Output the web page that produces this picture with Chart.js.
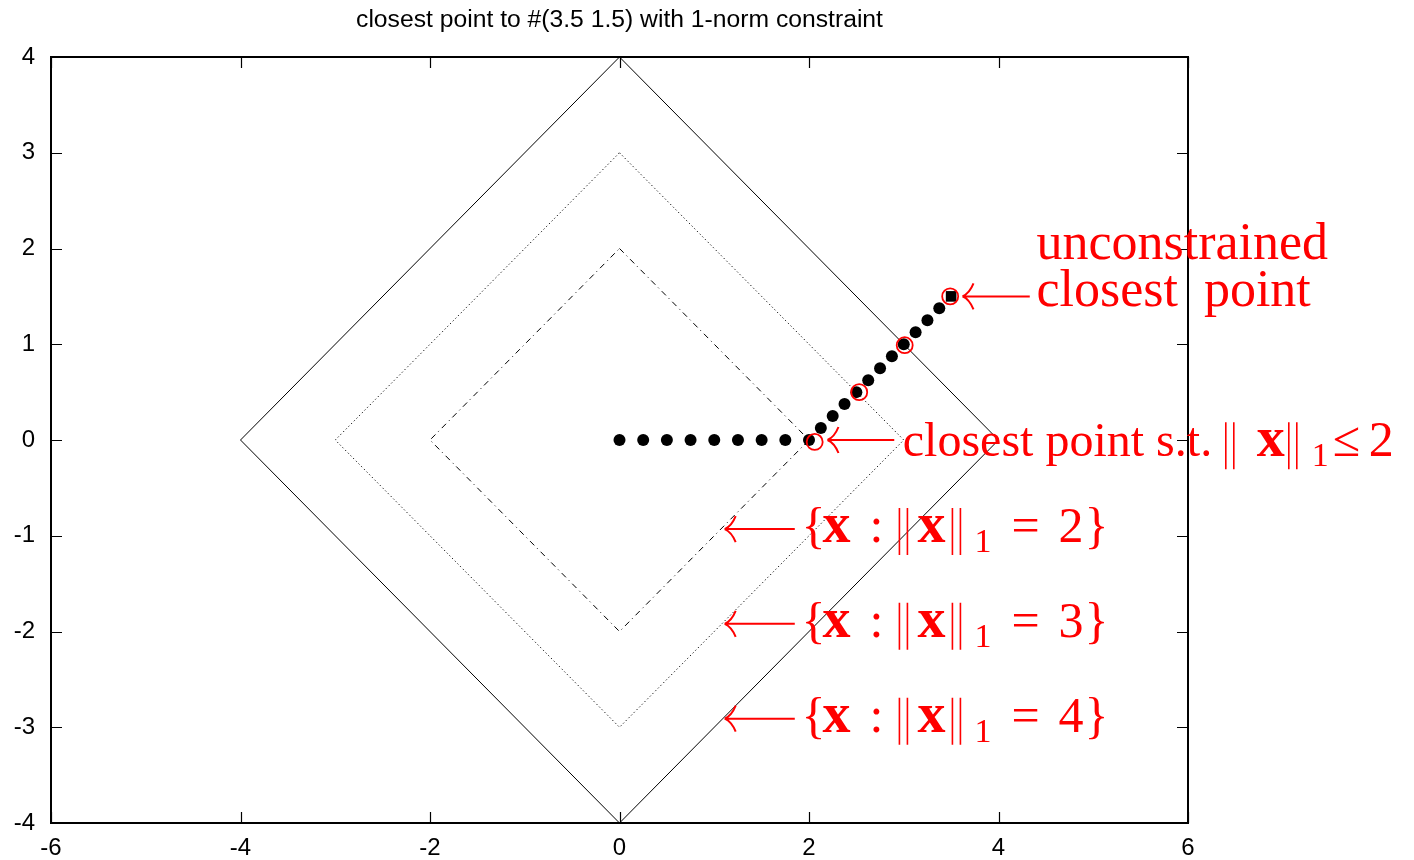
<!DOCTYPE html>
<html>
<head>
<meta charset="utf-8">
<script src="https://cdn.jsdelivr.net/npm/chart.js@4/dist/chart.umd.min.js"></script>
<style>
  html, body { margin: 0; padding: 0; background: #fff; }
  #wrap { width: 1414px; height: 860px; }
</style>
</head>
<body>
<div id="wrap"><canvas id="myChart" width="1414" height="860"></canvas></div>
<script>
// level sets of the 1-norm (diamonds)
const ball4X = [0, 4, 0, -4, 0];
const ball4Y = [4, 0, -4, 0, 4];
const ball3X = [0, 3, 0, -3, 0];
const ball3Y = [3, 0, -3, 0, 3];
const ball2X = [0, 2, 0, -2, 0];
const ball2Y = [2, 0, -2, 0, 2];

// path of closest points as the constraint grows
const pathX = [0, 0.25, 0.5, 0.75, 1, 1.25, 1.5, 1.75, 2, 2.125, 2.25, 2.375, 2.5, 2.625, 2.75, 2.875, 3, 3.125, 3.25, 3.375, 3.5];
const pathY = [0, 0, 0, 0, 0, 0, 0, 0, 0, 0.125, 0.25, 0.375, 0.5, 0.625, 0.75, 0.875, 1, 1.125, 1.25, 1.375, 1.5];

// highlighted points (red circles)
const markX = [2.06, 2.53, 3.01, 3.49];
const markY = [-0.02, 0.5, 0.99, 1.5];

const xTicks = [-6, -4, -2, 0, 2, 4, 6];
const yTicks = [-4, -3, -2, -1, 0, 1, 2, 3, 4];

const titleText = 'closest point to #(3.5 1.5) with 1-norm constraint';

const canvas = document.getElementById('myChart');

function toPoints(xs, ys) {
    return xs.map((x, i) => ({ x: x, y: ys[i] }));
}

const RED = '#ff0000';
const SERIF = '"Liberation Serif", "DejaVu Serif", serif';
const NF = '50px ' + SERIF;
const BF = 'bold 56px ' + SERIF;
const SF = '34px ' + SERIF;

// draws pieces of a formula at fixed offsets from x; 'bars' is a tall double bar
function drawRich(ctx, x, y, parts) {
    parts.forEach(p => {
        if (p.bars) {
            ctx.save();
            ctx.lineWidth = 1.6;
            ctx.beginPath();
            [1, 9].forEach(d => {
                ctx.moveTo(x + p.x + d, y - 34);
                ctx.lineTo(x + p.x + d, y + 13);
            });
            ctx.stroke();
            ctx.restore();
            return;
        }
        ctx.font = p.f;
        ctx.fillText(p.t, x + p.x, y + (p.dy || 0));
    });
}

// TeX style long left arrow
function longArrow(ctx, x1, x2, y) {
    ctx.beginPath();
    ctx.moveTo(x1 + 1, y);
    ctx.lineTo(x2, y);
    ctx.moveTo(x1, y);
    ctx.quadraticCurveTo(x1 + 7, y - 3, x1 + 11, y - 13);
    ctx.moveTo(x1, y);
    ctx.quadraticCurveTo(x1 + 7, y + 3, x1 + 11, y + 13);
    ctx.stroke();
}

function setParts(n) {
    return [
        { t: '{', f: NF, x: 0 },
        { t: 'x', f: BF, x: 21 },
        { t: ':', f: NF, x: 68 },
        { bars: true, x: 97 },
        { t: 'x', f: BF, x: 116 },
        { bars: true, x: 150 },
        { t: '1', f: SF, x: 173, dy: 10 },
        { t: '=', f: NF, x: 210 },
        { t: String(n), f: NF, x: 257 },
        { t: '}', f: NF, x: 283 }
    ];
}

const framePlugin = {
    id: 'frame',
    beforeDatasetsDraw(chart) {
        const ctx = chart.ctx;
        const a = chart.chartArea;
        const xs = chart.scales.x;
        const ys = chart.scales.y;
        ctx.save();
        ctx.strokeStyle = '#000';
        ctx.lineWidth = 1.2;
        ctx.beginPath();
        xTicks.forEach(v => {
            const px = Math.round(xs.getPixelForValue(v)) + 0.5;
            ctx.moveTo(px, a.bottom);
            ctx.lineTo(px, a.bottom - 11);
            ctx.moveTo(px, a.top);
            ctx.lineTo(px, a.top + 11);
        });
        yTicks.forEach(v => {
            const py = Math.round(ys.getPixelForValue(v)) + 0.5;
            ctx.moveTo(a.left, py);
            ctx.lineTo(a.left + 11, py);
            ctx.moveTo(a.right, py);
            ctx.lineTo(a.right - 11, py);
        });
        ctx.stroke();
        ctx.lineWidth = 2;
        ctx.strokeRect(a.left, a.top, a.right - a.left, a.bottom - a.top);
        ctx.restore();
    },
    afterDraw(chart) {
        const ctx = chart.ctx;
        const xs = chart.scales.x;
        const ys = chart.scales.y;
        const px = v => xs.getPixelForValue(v);
        const py = v => ys.getPixelForValue(v);
        ctx.save();
        // title
        ctx.fillStyle = '#000';
        ctx.font = '24.7px "Liberation Sans", Arial, sans-serif';
        ctx.textAlign = 'center';
        ctx.textBaseline = 'middle';
        ctx.fillText(titleText, px(0), 20);

        // red annotations
        ctx.fillStyle = RED;
        ctx.strokeStyle = RED;
        ctx.lineWidth = 2;
        ctx.textAlign = 'left';
        ctx.textBaseline = 'alphabetic';
        ctx.font = '52px ' + SERIF;
        ctx.fillText('unconstrained', px(4.4), py(1.89));
        ctx.fillText('closest  point', px(4.4), py(1.395));
        longArrow(ctx, px(3.62), px(4.33), py(1.5));

        longArrow(ctx, px(2.195), px(2.9), py(0));
        drawRich(ctx, px(2.99), py(-0.17), [
            { t: 'closest point s.t.', f: '48px ' + SERIF, x: 0 },
            { bars: true, x: 322 },
            { t: 'x', f: BF, x: 354 },
            { bars: true, x: 385 },
            { t: '1', f: SF, x: 409, dy: 10 },
            { t: '\u2264', f: NF, x: 430 },
            { t: '2', f: NF, x: 466 }
        ]);

        [2, 3, 4].forEach((n, i) => {
            const yArrow = py(-0.93 - i * 0.99);
            longArrow(ctx, px(1.11), px(1.85), yArrow);
            drawRich(ctx, px(1.92), yArrow + 13, setParts(n));
        });
        ctx.restore();
    }
};

const tickFont = { family: '"Liberation Sans", Arial, sans-serif', size: 24 };

new Chart(canvas, {
    type: 'scatter',
    data: {
        datasets: [
            {
                data: toPoints(markX, markY),
                pointStyle: 'circle',
                pointRadius: 8,
                borderColor: RED,
                backgroundColor: 'rgba(0,0,0,0)',
                borderWidth: 1.8,
                order: 0
            },
            {
                data: toPoints(pathX, pathY),
                pointStyle: pathX.map((v, i) => i === pathX.length - 1 ? 'rect' : 'circle'),
                pointRadius: pathX.map((v, i) => i === pathX.length - 1 ? 7.5 : 6),
                backgroundColor: '#000',
                borderColor: '#000',
                borderWidth: 0,
                order: 1
            },
            {
                data: toPoints(ball4X, ball4Y),
                showLine: true,
                borderColor: '#000',
                borderWidth: 1,
                pointRadius: 0,
                order: 2
            },
            {
                data: toPoints(ball3X, ball3Y),
                showLine: true,
                borderColor: '#000',
                borderWidth: 1,
                borderDash: [1.2, 2.6],
                pointRadius: 0,
                order: 2
            },
            {
                data: toPoints(ball2X, ball2Y),
                showLine: true,
                borderColor: '#000',
                borderWidth: 1,
                borderDash: [6, 4, 1, 4],
                pointRadius: 0,
                order: 2
            }
        ]
    },
    options: {
        responsive: false,
        animation: false,
        layout: { padding: { top: 57, right: 226, bottom: 0, left: 0 } },
        plugins: {
            legend: { display: false },
            tooltip: { enabled: false },
            title: { display: false }
        },
        scales: {
            x: {
                type: 'linear',
                min: -6,
                max: 6,
                grid: { display: false, drawTicks: false },
                border: { display: false },
                afterBuildTicks: s => { s.ticks = xTicks.map(v => ({ value: v })); },
                afterFit: s => { s.height = 37; },
                ticks: { color: '#000', font: tickFont, padding: 11, maxRotation: 0 }
            },
            y: {
                type: 'linear',
                min: -4,
                max: 4,
                grid: { display: false, drawTicks: false },
                border: { display: false },
                afterBuildTicks: s => { s.ticks = yTicks.map(v => ({ value: v })); },
                afterFit: s => { s.width = 51; },
                ticks: { color: '#000', font: tickFont, padding: 16 }
            }
        }
    },
    plugins: [framePlugin]
});
</script>
</body>
</html>
